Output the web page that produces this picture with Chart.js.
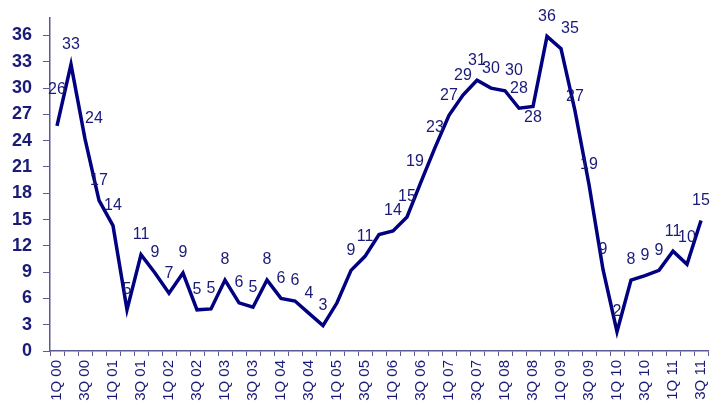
<!DOCTYPE html>
<html>
<head>
<meta charset="utf-8">
<script src="https://cdn.jsdelivr.net/npm/chart.js@4/dist/chart.umd.min.js"></script>
<style>
  html, body { margin: 0; padding: 0; background: #ffffff; }
  #wrap { width: 711px; height: 403px; position: relative; }
</style>
</head>
<body>
<div id="wrap"><canvas id="c" width="711" height="403"></canvas></div>
<script>
const categories = [
  "1Q 00","2Q 00","3Q 00","4Q 00",
  "1Q 01","2Q 01","3Q 01","4Q 01",
  "1Q 02","2Q 02","3Q 02","4Q 02",
  "1Q 03","2Q 03","3Q 03","4Q 03",
  "1Q 04","2Q 04","3Q 04","4Q 04",
  "1Q 05","2Q 05","3Q 05","4Q 05",
  "1Q 06","2Q 06","3Q 06","4Q 06",
  "1Q 07","2Q 07","3Q 07","4Q 07",
  "1Q 08","2Q 08","3Q 08","4Q 08",
  "1Q 09","2Q 09","3Q 09","4Q 09",
  "1Q 10","2Q 10","3Q 10","4Q 10",
  "1Q 11","2Q 11","3Q 11"
];
const values = [
  25.7, 32.7, 24.2, 17.2,
  14.3, 4.7, 11.0, 8.9,
  6.6, 8.9, 4.7, 4.8,
  8.1, 5.5, 5.0, 8.1,
  6.0, 5.7, 4.3, 2.9,
  5.5, 9.2, 10.8, 13.3,
  13.7, 15.3, 19.3, 23.2,
  26.9, 29.2, 30.9, 30.0,
  29.7, 27.7, 27.9, 35.9,
  34.5, 27.4, 19.0, 9.3,
  2.2, 8.1, 8.6, 9.2,
  11.4, 9.9, 14.9
];
const pointLabels = [
  "26","33","24","17",
  "14","5","11","9",
  "7","9","5","5",
  "8","6","5","8",
  "6","6","4","3",
  "","9","11","",
  "14","15","19","23",
  "27","29","31","30",
  "30","28","28","36",
  "35","27","19","9",
  "2","8","9","9",
  "11","10","15"
];
const yTicks = [0, 3, 6, 9, 12, 15, 18, 21, 24, 27, 30, 33, 36];

// label placement codes (style only): t = above, b = below, tr = above-right, tl = above-left, tt = far above
const labelPlacement = [
  "tt","t","tr","t",
  "t","t","t","t",
  "t","t","t","t",
  "t","t","t","t",
  "t","t","t","t",
  "t","t","t","t",
  "t","t","tl","t",
  "t","t","t","t",
  "tr","t","b","t",
  "tr","tc","t","t",
  "t","t","t","t",
  "t","tt2","t"
];

const NAVY = "#000080";
const TEXT = "#1a1a78";
const AXIS = "#5a5a96";

const labelPlugin = {
  id: "pointLabels",
  afterDatasetsDraw(chart) {
    const ctx = chart.ctx;
    const meta = chart.getDatasetMeta(0);
    ctx.save();
    ctx.font = "16px 'Liberation Sans', Arial, sans-serif";
    ctx.fillStyle = TEXT;
    ctx.textAlign = "center";
    ctx.textBaseline = "middle";
    meta.data.forEach((pt, i) => {
      const txt = pointLabels[i];
      if (!txt) return;
      let dx = 0, dy = -20;
      switch (labelPlacement[i]) {
        case "b": dy = 11; break;
        case "tr": dx = 9; dy = -20; break;
        case "tl": dx = -6; dy = -20; break;
        case "tt": dy = -36; break;
        case "tt2": dy = -27; break;
        case "tc": dy = -14; break;
      }
      ctx.fillText(txt, pt.x + dx, pt.y + dy);
    });
    ctx.restore();
  }
};

new Chart(document.getElementById("c"), {
  type: "line",
  data: {
    labels: categories,
    datasets: [{
      data: values,
      borderColor: NAVY,
      borderWidth: 3.5,
      pointRadius: 0,
      tension: 0,
      fill: false
    }]
  },
  options: {
    responsive: false,
    animation: false,
    layout: { padding: { top: 18, right: 3, left: 0, bottom: 0 } },
    plugins: { legend: { display: false }, tooltip: { enabled: false } },
    scales: {
      x: {
        type: "category",
        offset: true,
        grid: {
          offset: true,
          drawOnChartArea: false,
          drawTicks: true,
          tickLength: 5,
          tickColor: AXIS,
          tickWidth: 1
        },
        border: { display: true, color: AXIS, width: 1.5 },
        ticks: {
          autoSkip: false,
          maxRotation: 90,
          minRotation: 90,
          padding: 4,
          color: TEXT,
          font: { family: "'Liberation Sans', Arial, sans-serif", size: 15 },
          callback: function(v, i) { return i % 2 === 0 ? categories[i] : ""; }
        },
        afterFit(scale) {
          scale.height = 52;
          scale.paddingLeft = 0;
          scale.paddingRight = 0;
        }
      },
      y: {
        min: 0,
        max: 38,
        afterBuildTicks(scale) { scale.ticks = yTicks.map(v => ({ value: v })); },
        grid: {
          drawOnChartArea: false,
          drawTicks: true,
          tickLength: 7,
          tickColor: AXIS,
          tickWidth: 1
        },
        border: { display: true, color: AXIS, width: 1.5 },
        ticks: {
          padding: 11,
          color: TEXT,
          font: { family: "'Liberation Sans', Arial, sans-serif", size: 18, weight: "bold" }
        },
        afterFit(scale) {
          scale.width = 50;
          scale.paddingTop = 0;
          scale.paddingBottom = 0;
        }
      }
    }
  },
  plugins: [labelPlugin]
});
</script>
</body>
</html>
